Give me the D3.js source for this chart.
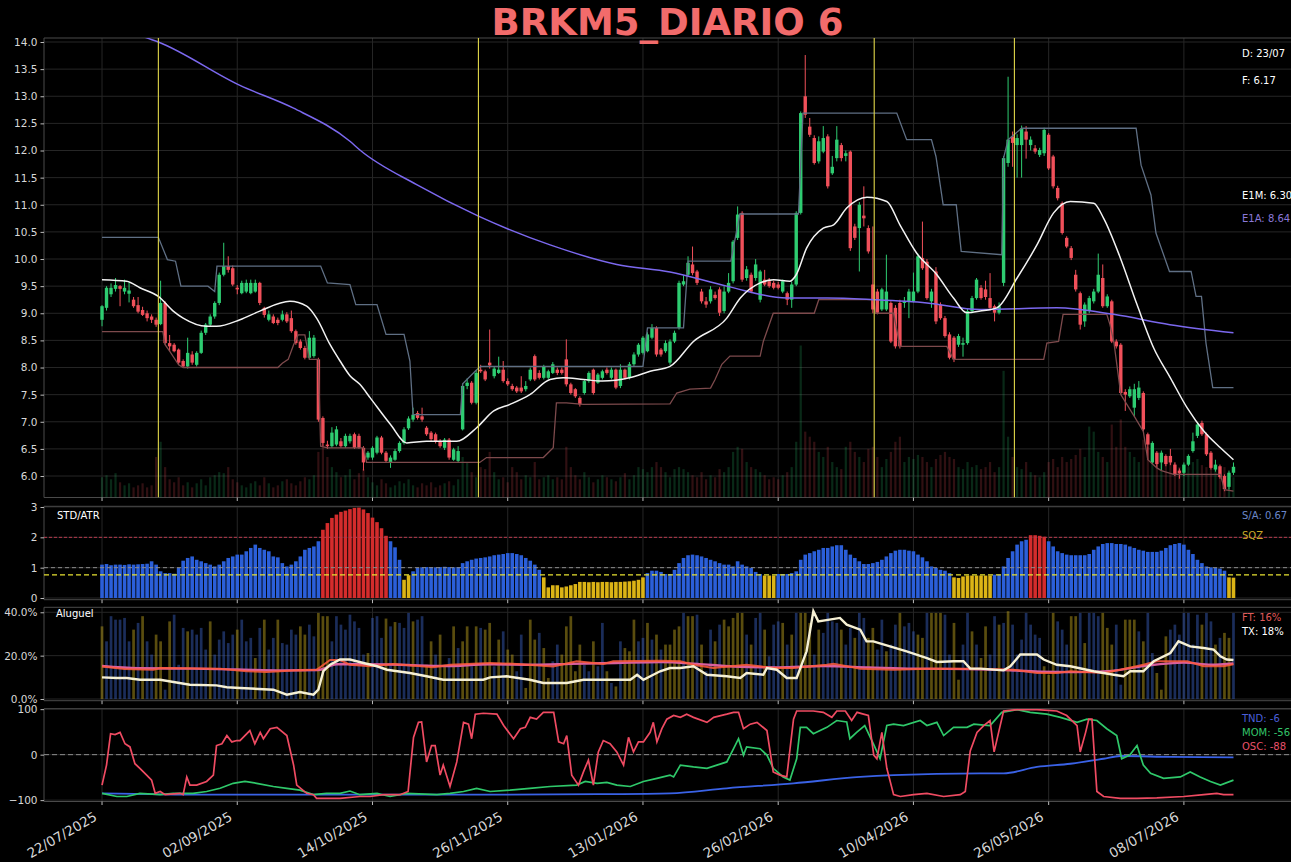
<!DOCTYPE html>
<html>
<head>
<meta charset="utf-8">
<script src="https://cdn.jsdelivr.net/npm/d3@7"></script>
<style>
  body { margin: 0; background: #000; }
  svg { display: block; }
  text { font-family: "DejaVu Sans", sans-serif; }
</style>
</head>
<body>
<svg id="chart"></svg>
<script>
"use strict";

/* ---- data ---- */
const title = "BRKM5_DIARIO 6";
const lastDate = "23/07";
const tickIdx = [0, 30, 60, 90, 120, 150, 180, 210, 240];
const tickDates = ["22/07/2025","02/09/2025","14/10/2025","26/11/2025","13/01/2026","26/02/2026","10/04/2026","26/05/2026","08/07/2026"];
const signals = [12.5, 83.5, 171.3, 202.4];
const sqzLevel = 0.76;

const openP = [
  8.88,9.10,9.35,9.45,9.50,9.40,9.36,9.25,9.15,9.06, 9.00,8.94,8.88,8.80,9.19,8.45,8.42,8.33,8.12,8.02,
  8.24,8.05,8.27,8.64,8.79,8.94,9.19,9.71,9.87,9.83, 9.47,9.37,9.40,9.37,9.40,9.56,9.10,8.88,8.94,8.88,
  8.88,8.98,8.91,8.67,8.48,8.36,8.18,8.21,8.15,7.07, 6.58,6.55,6.58,6.64,6.55,6.64,6.77,6.74,6.52,6.34,
  6.34,6.43,6.71,6.43,6.25,6.30,6.46,6.61,6.88,7.04, 7.16,7.10,6.89,6.80,6.77,6.64,6.52,6.67,6.30,6.28,
  6.86,7.66,7.72,7.35,7.96,7.93,8.09,7.84,7.90,7.96, 7.75,7.66,7.63,7.63,7.60,7.78,8.21,7.90,7.81,7.81,
  7.90,7.96,7.96,8.15,7.69,7.60,7.44,7.53,7.75,7.96, 7.72,7.81,7.96,7.81,7.96,7.66,7.96,7.81,8.06,8.24,
  8.27,8.30,8.55,8.73,8.33,8.30,8.09,8.48,8.73,9.53, 9.71,9.90,9.77,9.40,9.22,9.22,9.34,9.44,9.04,9.40,
  9.59,10.39,10.85,9.65,9.71,9.65,9.25,9.62,9.59,9.56, 9.53,9.40,9.37,9.25,9.53,10.85,13.00,12.44,12.23,11.80,
  11.98,12.26,11.58,11.86,12.10,11.90,11.98,10.60,10.57,10.80, 10.57,9.53,9.40,9.07,9.07,9.19,9.10,9.19,9.19,9.22,
  9.22,9.40,10.02,9.95,9.22,9.77,9.16,8.91,8.61,8.55, 8.42,8.42,8.45,9.04,9.28,9.47,9.44,9.28,9.13,9.01,
  9.56,11.77,12.26,12.10,12.10,12.35,12.10,12.04,11.92,11.95, 12.29,11.89,11.31,11.03,10.39,10.20,9.71,9.37,8.85,9.04,
  9.22,9.40,9.65,9.13,9.22,8.48,8.42,7.55,7.47,7.26, 7.44,7.53,6.77,6.25,6.43,6.25,6.37,6.37,6.21,6.10,
  6.06,6.21,6.46,6.74,6.98,6.77,6.43,6.12,6.18,6.00, 5.80,6.06
];
const highP = [
  9.15,9.50,9.55,9.65,9.52,9.62,9.58,9.30,9.30,9.12, 9.05,8.98,8.92,9.60,9.22,8.60,8.45,8.35,8.15,8.55,
  8.30,8.30,8.68,8.82,8.98,9.22,9.75,10.30,10.05,9.88, 9.52,9.60,9.62,9.62,9.62,9.58,9.12,9.05,8.98,8.92,
  9.05,9.02,9.05,8.70,8.52,8.40,8.67,8.60,8.18,7.10, 6.65,6.90,6.92,6.70,6.78,6.78,6.80,6.78,6.55,6.46,
  6.55,6.74,6.74,6.46,6.38,6.50,6.64,6.90,7.10,7.26, 7.20,7.26,6.92,6.83,6.80,6.68,6.70,6.70,6.52,6.55,
  7.70,7.80,7.75,7.95,8.05,7.96,8.70,8.02,8.20,8.12, 7.80,7.70,7.66,7.84,7.75,8.00,8.24,7.95,8.05,7.96,
  8.10,8.00,8.00,8.52,7.72,7.62,7.47,7.78,7.93,7.98, 7.90,7.96,8.00,8.00,7.98,8.06,7.98,8.10,8.28,8.45,
  8.58,8.65,8.80,8.76,8.36,8.50,8.52,8.68,9.60,9.70, 10.05,10.23,9.80,9.45,9.30,9.50,9.40,9.48,9.50,9.74,
  10.35,10.97,10.88,9.87,9.75,10.00,9.80,9.80,9.65,9.60, 9.58,9.62,9.40,9.58,10.88,12.72,13.76,12.60,12.28,12.26,
  12.45,12.30,11.90,12.45,12.14,12.00,12.00,10.65,11.05,11.34, 10.62,10.60,9.45,9.47,10.08,9.22,9.15,9.25,9.30,9.45,
  9.75,10.10,10.69,10.00,9.45,9.85,9.20,8.95,8.65,8.58, 8.62,8.55,9.08,9.32,9.65,9.52,9.60,9.74,9.16,9.20,
  11.90,13.36,12.35,12.30,12.46,12.45,12.26,12.10,12.05,12.42, 12.32,11.92,11.35,11.06,10.42,10.24,9.80,9.40,9.20,9.32,
  9.45,10.10,9.90,9.35,9.25,8.52,8.45,7.60,7.65,7.70, 7.75,7.56,6.80,6.64,6.46,6.47,6.40,6.50,6.25,6.14,
  6.25,6.40,6.80,6.98,7.02,6.80,6.46,6.30,6.21,6.03, 6.10,6.25
];
const lowP = [
  8.76,9.05,9.30,9.40,9.13,9.35,9.20,9.10,9.00,8.95, 8.85,8.82,8.75,8.78,8.42,8.30,8.28,8.05,8.00,7.98,
  8.05,8.02,8.25,8.60,8.75,8.90,9.15,9.68,9.75,9.50, 9.35,9.35,9.37,9.35,9.38,9.15,8.92,8.85,8.80,8.78,
  8.85,8.82,8.64,8.42,8.33,8.15,8.15,8.18,7.00,6.55, 6.50,6.52,6.55,6.52,6.52,6.60,6.50,6.50,6.10,6.30,
  6.30,6.40,6.40,6.25,6.15,6.28,6.43,6.58,6.85,7.00, 7.04,7.00,6.74,6.64,6.60,6.52,6.48,6.30,6.28,6.25,
  6.84,7.60,7.32,7.32,7.90,7.75,7.98,7.80,7.88,7.72, 7.66,7.57,7.53,7.53,7.56,7.75,7.75,7.78,7.78,7.78,
  7.88,7.86,7.87,7.65,7.50,7.44,7.28,7.50,7.72,7.50, 7.70,7.78,7.87,7.78,7.60,7.62,7.78,7.78,8.02,8.20,
  8.24,8.28,8.52,8.20,8.20,8.27,8.05,8.45,8.70,9.50, 9.68,9.70,9.52,9.18,9.10,9.18,9.25,8.95,9.00,9.37,
  9.55,10.35,9.58,9.60,9.37,9.60,9.20,9.50,9.47,9.44, 9.44,9.37,9.15,9.10,9.50,10.82,12.60,12.25,11.74,11.76,
  11.95,11.30,11.55,11.80,11.80,11.80,10.15,10.35,9.77,10.60, 10.10,9.00,8.98,9.04,9.04,8.45,8.35,8.35,9.10,8.91,
  9.20,9.37,9.80,9.25,9.10,8.80,8.88,8.55,8.15,8.10, 8.38,8.20,8.42,9.00,9.25,9.25,9.25,9.05,8.85,8.98,
  9.50,11.70,11.70,11.50,11.50,11.85,12.00,11.94,11.88,11.90, 11.64,11.30,11.08,10.45,10.20,9.98,9.40,8.70,8.75,9.00,
  9.18,9.37,9.10,9.10,8.45,8.35,7.50,7.20,7.44,7.10, 7.40,6.82,6.30,6.22,6.15,6.10,6.18,6.20,6.00,5.95,
  6.00,6.18,6.43,6.70,6.74,6.37,6.12,6.08,5.95,5.72, 5.75,6.02
];
const closeP = [
  9.13,9.47,9.47,9.52,9.45,9.47,9.42,9.13,9.03,8.97, 8.91,8.88,8.79,9.19,8.45,8.39,8.30,8.09,8.02,8.27,
  8.09,8.27,8.64,8.79,8.94,9.19,9.71,9.87,9.80,9.53, 9.44,9.56,9.56,9.56,9.56,9.19,8.97,8.98,8.82,8.82,
  8.98,8.85,8.67,8.45,8.36,8.18,8.55,8.55,7.04,6.61, 6.55,6.80,6.86,6.55,6.74,6.74,6.52,6.52,6.25,6.43,
  6.52,6.71,6.43,6.28,6.34,6.46,6.61,6.86,7.06,7.13, 7.07,7.04,6.77,6.68,6.64,6.55,6.67,6.34,6.49,6.46,
  7.66,7.72,7.35,7.90,7.93,7.78,8.04,7.98,7.96,7.75, 7.69,7.60,7.56,7.56,7.66,7.96,7.78,7.81,8.02,7.93,
  8.06,7.90,7.90,7.69,7.53,7.47,7.32,7.75,7.90,7.53, 7.87,7.93,7.90,7.96,7.63,7.96,7.81,8.06,8.24,8.42,
  8.55,8.61,8.73,8.24,8.24,8.45,8.48,8.64,9.56,9.59, 9.93,9.74,9.56,9.22,9.16,9.44,9.28,9.01,9.40,9.56,
  10.32,10.82,9.62,9.81,9.40,9.90,9.77,9.53,9.50,9.47, 9.47,9.59,9.25,9.53,10.85,12.69,12.66,12.29,11.77,12.17,
  12.23,11.34,11.70,12.20,11.86,11.95,10.20,10.39,11.00,10.75, 10.14,9.07,9.01,9.44,9.40,8.48,8.39,8.39,9.22,9.40,
  9.40,10.05,9.83,9.28,9.40,8.85,8.91,8.58,8.18,8.15, 8.58,8.45,9.04,9.28,9.62,9.28,9.30,9.10,9.01,9.13,
  11.86,12.20,12.14,12.23,12.41,12.20,12.20,11.98,12.01,12.38, 11.67,11.34,11.12,10.48,10.23,10.02,9.44,8.79,9.16,9.28,
  9.40,9.71,9.13,9.31,8.48,8.39,7.53,7.50,7.60,7.60, 7.63,6.86,6.58,6.61,6.22,6.43,6.22,6.25,6.03,6.05,
  6.21,6.37,6.64,6.95,6.77,6.40,6.15,6.21,5.98,5.76, 6.06,6.17
];
const volume = [
  20,22,18,24,15,12,14,10,12,14, 10,12,40,55,30,18,15,20,12,15, 10,14,18,12,20,22,25,24,30,18,
  15,12,10,14,16,12,20,14,10,12, 16,18,14,12,16,20,18,22,45,55, 40,30,25,20,22,28,18,24,28,20,
  15,12,18,14,10,12,16,14,18,12, 10,14,12,15,10,12,14,16,12,18, 40,35,25,20,30,28,45,25,18,20,
  15,30,25,18,22,20,35,18,20,22, 18,20,18,50,30,22,18,25,20,15, 18,22,20,18,16,20,24,18,22,30,
  28,25,30,35,30,25,20,28,30,28, 25,22,20,25,18,22,20,28,25,30, 45,50,48,35,30,28,25,22,18,20,
  18,22,25,30,55,150,65,60,55,45, 40,50,35,30,28,50,55,45,40,35, 48,50,40,30,38,45,55,60,35,40,
  38,42,40,35,30,38,42,45,40,38, 30,28,35,30,32,28,30,35,25,30, 125,60,40,30,28,35,25,22,20,25,
  35,38,30,40,35,38,42,48,40,70, 65,45,40,35,72,50,77,50,45,40, 35,57,50,45,40,42,38,40,35,30,
  32,30,35,38,32,30,35,28,22,30, 25,20
];

const e1m = [[0,9.62],[5.5,9.59],[8.4,9.47],[12.5,9.31],[15.8,9.04],[18,8.91],[23.2,8.76],[25.4,8.76],[30.6,8.88],
  [35,9.04],[41.7,9.22],[45.4,9.13],[47.6,8.91],[50.6,8.42],[52.8,8.12],[55,7.85],[57.2,7.69],[59.5,7.44],[64,6.95],
  [67.6,6.61],[72,6.64],[78.7,6.64],[83.1,6.89],[86.9,7.2],[90.5,7.32],[94.9,7.5],[99.4,7.78],[102.3,7.81],[106.8,7.78],
  [111,7.75],[117,7.81],[121.6,7.93],[126,8.02],[131.2,8.48],[138.6,8.91],[141.6,9.28],[146,9.56],[149,9.62],[152.6,9.59],
  [154,9.71],[156.3,10.2],[160,10.57],[162.3,10.63],[165.2,10.94],[169.7,11.14],[174.1,11.06],[177,10.63],[180.7,10.11],
  [185.2,9.71],[188.9,9.28],[191.8,9.01],[194.8,9.04],[198.5,9.1],[203,9.65],[207.4,10.26],[211.1,10.85],[214.8,11.06],
  [220,11.03],[222.2,10.75],[225.9,10.02],[229.6,9.16],[233.3,8.36],[237,7.81],[240.7,7.26],[244.4,6.83],[248.1,6.52],[251,6.30]];
const e1a = [[0,14.55],[9.2,14.1],[12.5,14.0],[30.6,13.2],[42.5,12.78],[55,12.17],[57.2,12.01],[69.8,11.37],[83.5,10.79],
  [99.4,10.26],[114.2,9.9],[126,9.76],[138.6,9.5],[152,9.28],[160.9,9.28],[171.2,9.25],[183,9.19],[194.8,9.07],
  [211.8,9.1],[224.4,8.98],[236.9,8.79],[251,8.64]];
const chanHigh = [[0,10.4],[12.5,10.4],[14.5,9.99],[16.3,9.96],[17.5,9.5],[23.5,9.5],[25,9.4],[25.5,9.87],[48.5,9.87],
  [50,9.56],[55,9.53],[56.3,9.16],[61,9.16],[63,8.61],[67,8.61],[68.3,8.12],[69,7.13],[79.5,7.13],[80,7.7],[83,7.95],
  [84,8.02],[120,8.02],[121,8.73],[129,8.73],[130,9.96],[139.5,9.96],[141.5,10.83],[154.5,10.83],[155.5,12.69],
  [176.3,12.69],[178.5,12.2],[184,12.2],[185,11.89],[186.6,11.0],[189.5,11.0],[190.6,10.14],[199.6,10.08],[200,11.86],
  [201,12.2],[204,12.41],[229.4,12.41],[230.5,11.73],[232.7,11.18],[233.8,10.48],[236.8,9.77],[241.6,9.77],[242.7,9.31],
  [243.9,9.31],[244.9,8.45],[246.4,7.63],[251,7.63]];
const chanLow = [[0,8.66],[13.5,8.66],[14,8.42],[15,8.3],[17,8.05],[18,8.0],[39,8.0],[40,8.08],[41.3,8.15],[42.5,8.42],
  [43.5,8.6],[45,8.6],[46,8.15],[48,8.15],[48.5,6.55],[50,6.52],[58,6.52],[58.7,6.25],[83.8,6.25],[85.3,6.34],[97.9,6.34],
  [100.1,6.52],[100.8,7.35],[103,7.35],[106.8,7.32],[126,7.33],[127.5,7.53],[130.4,7.6],[135,7.62],[136,7.78],[137.5,8.06],
  [139.3,8.21],[146,8.21],[146.7,8.48],[148.9,9.0],[158,9.0],[159,9.25],[171.2,9.25],[171.6,9.0],[175.6,9.0],[177,8.39],
  [187.4,8.39],[188.9,8.15],[208.9,8.15],[209.6,8.45],[212.2,8.48],[213.2,8.98],[222.9,8.98],[223.6,8.79],[224.5,8.45],
  [226,7.5],[229,7.1],[231,6.82],[232,6.3],[234,6.15],[235,6.1],[237.7,6.03],[248.1,6.03],[249,5.75],[251,5.72]];

const stdAtr = [
  1.10,1.12,1.08,1.10,1.10,1.09,1.11,1.10,1.11,1.12, 1.13,1.21,1.10,0.88,0.82,0.82,0.80,0.99,1.23,1.32,
  1.37,1.26,1.21,1.15,1.10,1.04,1.10,1.21,1.32,1.37, 1.43,1.43,1.54,1.65,1.76,1.65,1.59,1.54,1.37,1.34,
  1.15,1.04,1.10,1.21,1.37,1.59,1.65,1.70,1.87,2.25, 2.47,2.64,2.75,2.84,2.88,2.93,2.97,2.98,2.92,2.80,
  2.65,2.50,2.30,2.05,1.87,1.67,1.26,0.60,0.75,0.88, 0.99,1.01,1.02,1.02,1.01,1.02,1.03,1.02,1.01,1.02,
  1.15,1.21,1.26,1.30,1.32,1.34,1.37,1.41,1.43,1.45, 1.48,1.48,1.45,1.41,1.32,1.23,1.10,0.93,0.68,0.35,
  0.42,0.42,0.35,0.38,0.42,0.46,0.53,0.53,0.52,0.53, 0.52,0.53,0.53,0.52,0.53,0.53,0.54,0.55,0.57,0.60,
  0.68,0.82,0.90,0.90,0.86,0.79,0.79,0.93,1.15,1.32, 1.41,1.43,1.41,1.37,1.32,1.26,1.21,1.15,1.10,1.10,
  1.04,1.21,1.10,1.04,0.99,0.86,0.79,0.74,0.74,0.74, 0.79,0.79,0.79,0.82,0.88,1.26,1.43,1.48,1.54,1.59,
  1.65,1.65,1.70,1.74,1.74,1.59,1.43,1.32,1.21,1.12, 1.12,1.15,1.19,1.26,1.37,1.48,1.56,1.59,1.59,1.56,
  1.54,1.43,1.34,1.21,1.04,0.99,0.93,0.90,0.82,0.68, 0.66,0.71,0.74,0.74,0.74,0.74,0.74,0.74,0.77,0.77,
  1.04,1.32,1.54,1.76,1.87,1.92,2.07,2.07,2.05,2.02, 1.87,1.70,1.54,1.48,1.43,1.41,1.41,1.41,1.41,1.45,
  1.59,1.70,1.78,1.81,1.81,1.78,1.78,1.76,1.70,1.65, 1.59,1.56,1.52,1.52,1.52,1.56,1.65,1.74,1.78,1.81,
  1.76,1.59,1.45,1.26,1.15,1.04,1.01,0.99,0.97,0.90, 0.68,0.67
];

const aluguel = [
  33.5,26.6,38.2,36.6,36.6,37.4,26.6,32.0,35.1,38.2, 26.6,20.5,29.7,26.6,4.3,35.8,38.9,15.8,32.8,31.2,
  32.0,29.7,32.8,22.8,35.8,20.5,27.4,31.2,25.8,29.7, 32.0,36.6,26.6,28.2,18.9,32.8,36.6,22.8,28.2,36.6,
  25.8,25.1,32.0,29.7,33.5,29.7,34.3,28.9,39.7,38.2, 38.2,26.6,38.2,34.3,32.0,38.9,35.8,32.8,20.5,21.2,
  37.4,38.2,28.2,37.1,33.5,35.5,35.1,32.8,39.7,35.8, 36.6,38.2,15.8,26.6,20.5,29.7,15.8,18.9,33.5,23.5,
  26.6,33.5,15.1,33.5,32.8,32.0,35.1,15.1,27.4,31.2, 22.8,20.5,12.8,29.7,5.1,36.6,27.4,30.5,23.5,9.7,
  17.4,25.1,20.5,33.5,38.2,12.8,25.1,15.8,12.8,26.6, 15.1,35.1,12.8,7.4,5.8,26.6,23.5,22.0,36.6,26.6,
  28.2,35.1,27.4,29.7,22.8,25.1,25.1,32.0,33.5,39.7, 38.2,38.2,38.9,25.1,12.8,32.0,26.6,34.3,36.6,33.5,
  37.4,39.7,39.7,29.7,25.1,37.4,39.7,32.0,19.7,34.3, 35.8,35.1,25.1,29.7,39.7,39.7,39.7,35.1,20.5,32.0,
  30.5,39.7,35.8,35.1,32.0,25.1,32.8,28.2,39.7,37.4, 28.2,32.8,22.8,36.6,22.0,25.1,34.3,39.7,33.5,35.1,
  31.2,29.7,28.2,39.7,39.7,39.7,39.7,38.9,20.5,35.1, 8.9,25.1,39.7,31.2,25.1,18.9,33.5,20.5,38.2,34.3,
  35.1,40.5,34.3,20.5,27.4,39.7,34.3,29.7,28.2,15.1, 11.2,39.7,35.8,32.0,25.1,38.2,38.2,39.7,25.8,39.7,
  39.7,38.2,39.7,32.8,25.1,34.3,6.6,36.6,36.6,36.6, 31.2,26.6,39.7,21.2,12.0,4.3,28.9,32.0,34.3,29.7,
  39.7,39.7,25.1,38.9,34.3,39.7,35.8,25.1,28.2,30.5, 28.2,39.7
];
const aluguelSide =
  "ybbbbbbyby" + "bbyybybbby" + "bbbbybbbbb" + "ybbbybybby" + "bbbbyybbyy" +
  "ybbbbbbbby" + "bbbybybbby" + "bbyybyybyb" + "yybybyybyb" + "yybbyyybyy" +
  "bbyyyyybby" + "bbybybyyyb" + "bybybyyyyb" + "yybybbybyy" + "yyybybbybb" +
  "bybybyyyby" + "bbbbybbybb" + "yybbybbybb" + "byybyyybby" + "ybbybyybby" +
  "bybbbbbbby" + "yybbbyybyb" + "bbyyybbyyy" + "bybbyyybbb" + "bbbbybbyby" + "yb";

const ftLine = [[0,15.0],[5,13.8],[11.4,13.5],[12.9,14.3],[26.2,14.0],[32.1,12.8],[36.5,12.5],[42.5,13.1],[47.6,13.5],
  [50.6,18.0],[52.8,18.0],[55,15.8],[59.5,15.1],[64.6,16.2],[73.5,14.6],[77.2,15.8],[86.1,16.6],[92,16.2],[100.1,15.0],
  [105.3,17.4],[111.2,16.2],[113.4,17.4],[123.8,17.7],[128.3,17.4],[131.2,15.8],[135.6,14.3],[143,15.8],[148.9,14.3],
  [153.4,14.3],[160.8,15.8],[162.3,16.2],[168.2,14.0],[175.6,13.5],[183,14.0],[190.4,14.0],[194.8,14.0],[202.2,13.5],
  [207.4,12.0],[211.8,12.0],[214.8,12.8],[222.2,12.0],[225.9,13.5],[231,15.8],[234,17.4],[240.7,17.4],[244.4,15.1],
  [248.8,15.1],[251,16.0]];
const ftAvg = [[0,15.2],[8,14.2],[20,14.0],[30,13.6],[40,13.2],[48,13.4],[52,16.0],[58,16.0],[66,15.8],[76,15.2],
  [86,16.0],[96,15.8],[104,16.2],[114,16.6],[124,17.0],[132,16.2],[140,15.0],[150,14.6],[160,15.2],[170,14.6],
  [180,14.0],[192,13.8],[200,13.4],[208,12.6],[216,12.4],[224,13.0],[232,15.5],[240,16.8],[246,15.8],[251,16.4]];
const txLine = [[0,10.0],[3.3,9.7],[5.5,9.7],[8.4,8.9],[12.9,8.9],[19.5,6.6],[25.4,6.3],[27.7,5.4],[30.6,5.1],[38,4.3],
  [41,2.0],[43.9,3.2],[46.9,2.0],[48,4.3],[49.1,12.8],[50.6,15.8],[52.8,18.2],[55,18.2],[58,16.6],[61,15.1],[63.2,13.5],
  [68.3,12.0],[72,10.5],[75.7,8.9],[84.6,8.9],[86.1,10.0],[89.8,10.5],[94.9,8.9],[97.9,7.4],[103.1,7.4],[106.8,8.9],
  [117.2,8.9],[118.7,11.2],[120.1,8.9],[123.8,12.8],[126,14.3],[128.3,14.3],[131.2,15.1],[134.2,11.2],[138.6,10.5],
  [141.6,9.7],[143,12.0],[146.7,11.2],[147.5,14.3],[149.7,13.5],[151.9,9.7],[154.1,9.7],[156.3,22.0],[157.8,40.5],
  [158.9,35.8],[163.7,37.4],[165.2,34.3],[168.2,32.0],[169.6,26.6],[171.1,26.6],[174.8,24.3],[178.5,22.0],[183,18.9],
  [185.2,17.1],[188.9,17.4],[191.1,17.4],[192.6,14.0],[194.8,14.0],[200,13.2],[201.5,15.1],[203.7,20.5],[207.4,20.5],
  [208.9,18.2],[211.8,15.8],[214.8,15.1],[220,12.8],[224.4,11.2],[226.6,10.5],[228.1,12.8],[231,12.8],[233.3,17.4],
  [237,21.2],[238.8,26.6],[241.4,24.3],[244.4,23.5],[246.6,22.8],[248.1,19.7],[249.5,18.2],[251,18.0]];

const osc = [[0,-67],[1,-23],[1.9,46],[2.9,44],[4,49],[5.1,24],[6.2,17],[7.3,-20],[8.4,-30],[9.9,-45],[11,-56],[11.8,-85],
  [12.9,-81],[14,-88],[17.3,-85],[18,-88],[18.8,-49],[19.5,-67],[21,-67],[23.2,-59],[24.7,-45],[25.4,20],[26.6,24],
  [27.7,42],[28.8,28],[29.9,31],[30.6,31],[32.8,53],[33.9,24],[35.1,49],[35.8,35],[37.3,57],[38.8,60],[41,42],
  [42.5,-23],[43.2,-67],[45.4,-85],[46.9,-88],[47.6,-96],[52.8,-96],[57.2,-92],[59.5,-92],[62.4,-88],[66.1,-88],
  [67.9,-81],[69.1,38],[70.2,71],[70.9,72],[72,-16],[73.1,20],[73.9,20],[75,-45],[75.7,-23],[77.2,-70],[78.7,-16],
  [80.2,71],[81.3,67],[82,35],[82.8,89],[84.6,91],[87.6,89],[89.1,64],[91.3,35],[92.8,57],[93.9,60],[95,82],[96.4,78],
  [97.9,93],[100.2,93],[101.3,28],[102.4,24],[103.1,42],[104.2,-45],[105.7,-67],[106.8,-38],[107.9,-12],[109,-67],
  [110.1,6],[111.2,31],[112.7,24],[114.2,6],[115.7,-23],[116.8,38],[117.9,6],[119,28],[120.1,28],[121.6,49],[122.3,71],
  [123.1,28],[124.2,57],[125.3,78],[126.8,86],[128.3,82],[129.7,89],[131.2,82],[134.2,71],[135.7,82],[138.6,89],
  [140.1,93],[141.2,93],[142.3,57],[143.8,67],[145.3,71],[147.5,53],[148.9,-38],[150.4,-45],[151.9,-49],[153.4,78],
  [154.1,96],[157.8,96],[160,93],[161.9,82],[163,96],[164.9,96],[166.3,75],[167.5,93],[168.9,89],[170,86],[171.2,-1],
  [171.9,-9],[173,49],[174.1,-30],[175.6,-88],[177.1,-92],[180,-88],[183,-85],[186.7,-92],[190.4,-88],[191.5,-81],
  [192.6,8],[194.1,49],[195.6,64],[197,75],[197.9,6],[198.9,49],[200,96],[203,99],[207.4,99],[211.8,96],[214,86],
  [216.3,64],[217,6],[218.2,49],[218.9,78],[219.6,78],[220.7,-81],[222.2,-92],[225.9,-96],[229.6,-96],[234,-95],
  [240,-92],[244.4,-88],[247.3,-85],[248.8,-88],[251,-88]];
const mom = [[0,-85],[3.3,-92],[5.5,-92],[8.4,-85],[12.9,-88],[15.8,-85],[20.2,-85],[23.2,-81],[26.2,-74],[29.1,-63],
  [31.7,-59],[34.3,-63],[38,-70],[41,-74],[43.9,-78],[46.9,-88],[49.8,-85],[52.8,-85],[55,-80],[57.2,-88],[61,-85],
  [63.9,-92],[67.6,-85],[74.3,-88],[77.2,-85],[80.2,-81],[83.1,-74],[86.1,-81],[90.5,-78],[94.9,-74],[99.4,-70],
  [105.3,-67],[107.2,-59],[109.8,-63],[112,-61],[114.2,-67],[117.2,-70],[120.1,-59],[123.1,-52],[126,-45],[126.8,-49],
  [128.3,-23],[131.2,-27],[134.2,-30],[136.4,-23],[138.6,-16],[140.1,13],[141.2,35],[142.3,-1],[143,17],[146,13],
  [147.5,-1],[148.9,-30],[151.1,-49],[152.6,-56],[154.1,-9],[154.9,60],[156.3,60],[157.8,46],[160.8,60],[163,75],
  [165.2,72],[165.9,35],[167.4,49],[169.2,64],[171.1,24],[172.6,-9],[174.1,64],[175.6,67],[177.8,64],[181.5,75],
  [183,64],[185.2,71],[186.7,42],[188.9,60],[191.9,60],[193.4,67],[195.6,65],[197,64],[199.6,93],[203,99],[205.9,93],
  [209.6,89],[212.6,82],[216.3,71],[218.5,78],[220.7,75],[222.9,57],[225.1,42],[226.2,-9],[228,-1],[229.6,20],
  [231,-23],[232.6,-41],[235.5,-52],[239.2,-49],[241.4,-38],[243.6,-49],[245.9,-59],[248.1,-67],[251,-56]];
const tnd = [[0,-85],[23,-88],[57,-88],[90,-88],[110,-87],[126,-85],[138.6,-74],[153.4,-63],[168.2,-49],[175.6,-45],
  [194.8,-41],[200,-41],[207.4,-27],[214.8,-20],[222.2,-9],[225.9,-3],[237,-5],[251,-6]];

/* ---- layout ---- */
const W = 1291, H = 862;
const plotLeft = 44, plotRight = 1291;
const panels = {
  main: {top: 38, bottom: 497.5},
  std:  {top: 506.3, bottom: 599.7},
  alug: {top: 607.3, bottom: 700.7},
  osc:  {top: 708.7, bottom: 801.5}
};

const svg = d3.select('#chart').attr('width', W).attr('height', H);
svg.append('rect').attr('width', W).attr('height', H).attr('fill', '#000');

const x = d3.scaleLinear().domain([-12.87, 263.76]).range([plotLeft, plotRight]);
const yMain = d3.scaleLinear().domain([5.604, 14.074]).range([panels.main.bottom, panels.main.top]);
const yStd = d3.scaleLinear().domain([-0.056, 3.023]).range([panels.std.bottom, panels.std.top]);
const yAlug = d3.scaleLinear().domain([-0.78, 42.3]).range([panels.alug.bottom, panels.alug.top]);
const yOsc = d3.scaleLinear().domain([-103, 101]).range([panels.osc.bottom, panels.osc.top]);
const volH = d3.scaleLinear().domain([0, d3.max(volume)]).range([0, 152]);

const gridColor = '#262626';
const frameColor = '#4a4a4a';
const labelColor = '#d8d8d8';
const green = '#2ecc71', red = '#f0505a';

/* clip paths */
const defs = svg.append('defs');
for (let key of Object.keys(panels)) {
  let p = panels[key];
  defs.append('clipPath').attr('id', `clip-${key}`)
    .append('rect').attr('x', plotLeft).attr('y', p.top)
    .attr('width', plotRight - plotLeft).attr('height', p.bottom - p.top);
}

/* panel frame + grid + y axis */
function drawPanel(key, yScale, ticks, fmt) {
  let p = panels[key];
  let g = svg.append('g').attr('class', `panel-${key}`);
  // horizontal grid
  g.selectAll('line.hgrid').data(ticks).enter().append('line')
    .attr('x1', plotLeft).attr('x2', plotRight)
    .attr('y1', d => yScale(d)).attr('y2', d => yScale(d))
    .attr('stroke', gridColor).attr('stroke-width', 1);
  // vertical grid at date ticks
  g.selectAll('line.vgrid').data(tickIdx).enter().append('line')
    .attr('x1', d => x(d)).attr('x2', d => x(d))
    .attr('y1', p.top).attr('y2', p.bottom)
    .attr('stroke', gridColor).attr('stroke-width', 1);
  // frame
  g.append('line').attr('x1', plotLeft).attr('x2', plotRight).attr('y1', p.top).attr('y2', p.top)
    .attr('stroke', frameColor);
  g.append('line').attr('x1', plotLeft).attr('x2', plotRight).attr('y1', p.bottom).attr('y2', p.bottom)
    .attr('stroke', frameColor);
  g.append('line').attr('x1', plotLeft).attr('x2', plotLeft).attr('y1', p.top).attr('y2', p.bottom)
    .attr('stroke', frameColor);
  // x tick marks under each panel
  g.selectAll('line.xtick').data(tickIdx).enter().append('line')
    .attr('x1', d => x(d)).attr('x2', d => x(d))
    .attr('y1', p.bottom).attr('y2', p.bottom + 3.5)
    .attr('stroke', '#bbb');
  // y axis
  let ax = svg.append('g').attr('transform', `translate(${plotLeft},0)`)
    .call(d3.axisLeft(yScale).tickValues(ticks).tickFormat(fmt).tickSize(3.5).tickPadding(3));
  ax.select('.domain').remove();
  ax.selectAll('line').attr('stroke', '#bbb');
  ax.selectAll('text').attr('fill', labelColor).style('font-size', '10.5px')
    .style('font-family', '"DejaVu Sans", sans-serif');
  return svg.append('g').attr('clip-path', `url(#clip-${key})`);
}

const mainTicks = d3.range(6, 14.01, 0.5);
const gMain = drawPanel('main', yMain, mainTicks, d3.format('.1f'));
const gStd = drawPanel('std', yStd, [0, 1, 2, 3], d3.format('d'));
const gAlug = drawPanel('alug', yAlug, [0, 20, 40], d => d3.format('.1f')(d) + '%');
const gOsc = drawPanel('osc', yOsc, [-100, 0, 100], d3.format('d'));

const idx = d3.range(closeP.length);

/* ---- main panel ---- */
// volume (faint, behind the candles)
gMain.selectAll('rect.vol').data(idx).enter().append('rect')
  .attr('x', i => x(i) - 1.1).attr('width', 2.2)
  .attr('y', i => panels.main.bottom - volH(volume[i]))
  .attr('height', i => volH(volume[i]))
  .attr('fill', i => closeP[i] >= openP[i] ? green : red)
  .attr('opacity', 0.2);

// candles
let candles = gMain.selectAll('g.candle').data(idx).enter().append('g');
candles.append('line')
  .attr('x1', i => x(i)).attr('x2', i => x(i))
  .attr('y1', i => yMain(highP[i])).attr('y2', i => yMain(lowP[i]))
  .attr('stroke', i => closeP[i] >= openP[i] ? green : red).attr('stroke-width', 1);
candles.append('rect')
  .attr('x', i => x(i) - 1.7).attr('width', 3.4)
  .attr('y', i => yMain(Math.max(openP[i], closeP[i])))
  .attr('height', i => Math.max(1, Math.abs(yMain(openP[i]) - yMain(closeP[i]))))
  .attr('fill', i => closeP[i] >= openP[i] ? green : red);

const pairLine = (yScale, curve) => d3.line().x(d => x(d[0])).y(d => yScale(d[1])).curve(curve || d3.curveLinear);

gMain.append('path').datum(chanHigh).attr('d', pairLine(yMain))
  .attr('fill', 'none').attr('stroke', '#5f6f84').attr('stroke-width', 1.3);
gMain.append('path').datum(chanLow).attr('d', pairLine(yMain))
  .attr('fill', 'none').attr('stroke', '#7d4a4c').attr('stroke-width', 1.3);
gMain.append('path').datum(e1a).attr('d', pairLine(yMain, d3.curveMonotoneX))
  .attr('fill', 'none').attr('stroke', '#7b68ee').attr('stroke-width', 1.5);
gMain.append('path').datum(e1m).attr('d', pairLine(yMain, d3.curveMonotoneX))
  .attr('fill', 'none').attr('stroke', '#f2f2f2').attr('stroke-width', 1.5);

// signal lines
gMain.selectAll('line.sig').data(signals).enter().append('line')
  .attr('x1', d => x(d)).attr('x2', d => x(d))
  .attr('y1', panels.main.top).attr('y2', panels.main.bottom)
  .attr('stroke', '#e2d84a').attr('stroke-width', 1.1);

/* ---- STD/ATR panel ---- */
const stdColor = v => v >= 2 ? '#d42c2c' : (v < sqzLevel ? '#dcb416' : '#2b5fd9');
gStd.selectAll('rect.std').data(idx).enter().append('rect')
  .attr('x', i => x(i) - 1.8).attr('width', 3.6)
  .attr('y', i => yStd(stdAtr[i])).attr('height', i => yStd(0) - yStd(stdAtr[i]))
  .attr('fill', i => stdColor(stdAtr[i]));
const refLine = (g, yScale, v, color, dash, w) => g.append('line')
  .attr('x1', plotLeft).attr('x2', plotRight).attr('y1', yScale(v)).attr('y2', yScale(v))
  .attr('stroke', color).attr('stroke-dasharray', dash).attr('stroke-width', w || 1);
refLine(gStd, yStd, 2, '#b8394c', '3,2');
refLine(gStd, yStd, 1, '#8c8c8c', '4,3');
refLine(gStd, yStd, sqzLevel, '#e8e232', '5,3', 1.3);

/* ---- Aluguel panel ---- */
gAlug.selectAll('rect.alug').data(idx).enter().append('rect')
  .attr('x', i => x(i) - 1.35).attr('width', 2.7)
  .attr('y', i => yAlug(aluguel[i])).attr('height', i => yAlug(0) - yAlug(aluguel[i]))
  .attr('fill', i => aluguelSide[i] === 'y' ? '#c8aa1e' : '#3c64c8')
  .attr('opacity', 0.45);
gAlug.append('path').datum(ftAvg).attr('d', pairLine(yAlug, d3.curveMonotoneX))
  .attr('fill', 'none').attr('stroke', '#d9609e').attr('stroke-width', 2.4);
gAlug.append('path').datum(ftLine).attr('d', pairLine(yAlug))
  .attr('fill', 'none').attr('stroke', '#ff5a3c').attr('stroke-width', 2).attr('opacity', 0.85);
gAlug.append('path').datum(txLine).attr('d', pairLine(yAlug))
  .attr('fill', 'none').attr('stroke', '#f6f0d4').attr('stroke-width', 2.4);

/* ---- Oscillator panel ---- */
refLine(gOsc, yOsc, 0, '#8c8c8c', '5,3');
gOsc.append('path').datum(tnd).attr('d', pairLine(yOsc, d3.curveMonotoneX))
  .attr('fill', 'none').attr('stroke', '#3a62e6').attr('stroke-width', 1.8);
gOsc.append('path').datum(mom).attr('d', pairLine(yOsc))
  .attr('fill', 'none').attr('stroke', '#2fc86a').attr('stroke-width', 1.7);
gOsc.append('path').datum(osc).attr('d', pairLine(yOsc))
  .attr('fill', 'none').attr('stroke', '#ef4b62').attr('stroke-width', 1.7);

/* ---- x tick labels ---- */
svg.selectAll('text.xlab').data(tickIdx).enter().append('text')
  .attr('text-anchor', 'end')
  .attr('transform', d => `translate(${x(d) - 4},${819.5}) rotate(-30)`)
  .attr('fill', labelColor).style('font-size', '13.5px')
  .text((d, i) => tickDates[i]);

/* ---- title ---- */
svg.append('text').attr('x', (plotLeft + plotRight) / 2).attr('y', 34.5)
  .attr('text-anchor', 'middle').attr('fill', '#f26b6b')
  .style('font-size', '37px').style('font-weight', 'bold').text(title);

/* ---- panel labels ---- */
const labelX = 1242;
const last = arr => arr[arr.length - 1];
const addLabel = (txt, px, py, color, anchor) => svg.append('text')
  .attr('x', px).attr('y', py).attr('fill', color)
  .attr('text-anchor', anchor || 'start').style('font-size', '10px').text(txt);

addLabel(`D: ${lastDate}`, labelX, 56.5, '#ffffff');
addLabel(`F: ${last(closeP).toFixed(2)}`, labelX, 83.5, '#ffffff');
addLabel(`E1M: ${last(e1m)[1].toFixed(2)}`, labelX, 198.5, '#ffffff');
addLabel(`E1A: ${last(e1a)[1].toFixed(2)}`, labelX, 221.5, '#8a78d8');

addLabel('STD/ATR', 57, 519, '#ffffff');
addLabel(`S/A: ${last(stdAtr).toFixed(2)}`, labelX, 519, '#6a86c8');
addLabel('SQZ', labelX, 539, '#c9a92a');

addLabel('Aluguel', 56, 617, '#ffffff');
addLabel(`FT: ${Math.round(last(ftLine)[1])}%`, labelX, 620.5, '#e05a5a');
addLabel(`TX: ${Math.round(last(txLine)[1])}%`, labelX, 634.5, '#ffffff');

addLabel(`TND: ${last(tnd)[1]}`, labelX, 721.5, '#4a5fd8');
addLabel(`MOM: ${last(mom)[1]}`, labelX, 735.5, '#33c46a');
addLabel(`OSC: ${last(osc)[1]}`, labelX, 749.5, '#e8506a');
</script>
</body>
</html>
